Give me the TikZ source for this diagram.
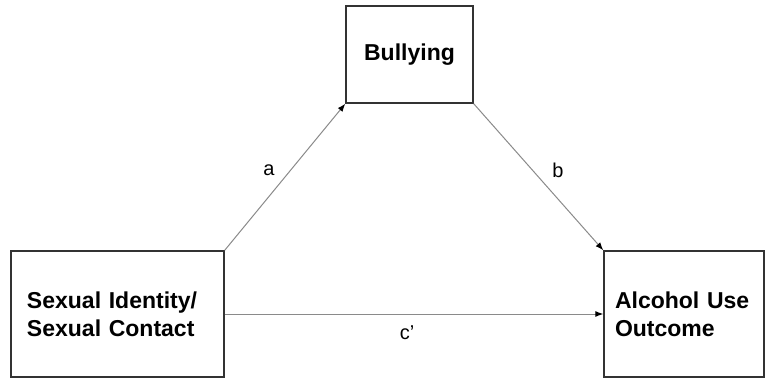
\documentclass[tikz,border=0pt]{standalone}
\usepackage{fontspec}
\setmainfont{Liberation Sans}
\usetikzlibrary{arrows.meta}
\definecolor{boxline}{HTML}{333333}
\definecolor{conline}{HTML}{8A8A8A}
\tikzset{
  varbox/.style={draw=boxline, line width=1.4pt, rectangle, inner ysep=0pt,
    font=\fontsize{23}{28}\selectfont\bfseries},
  path/.style={draw=conline, line width=1pt, -{Latex[length=8pt,width=6pt,black]}},
  plabel/.style={font=\fontsize{20}{23}\selectfont, inner sep=0pt}
}
\begin{document}
\begin{tikzpicture}[x=1pt,y=-1pt]
\useasboundingbox (0,0) rectangle (766,382);
\node[varbox, minimum width=213pt, minimum height=126pt, text width=181pt, inner xsep=16pt, align=left]
  (iv) at (117.5,314) {Sexual Identity/\\Sexual Contact};
\node[varbox, minimum width=127pt, minimum height=97pt, align=center]
  (med) at (409.5,54.5) {Bullying};
\node[varbox, minimum width=160pt, minimum height=126pt, text width=138pt, inner xsep=11pt, align=left]
  (dv) at (684,314) {Alcohol Use\\Outcome};
\draw[path] (iv.north east) -- (med.south west);
\draw[path] (med.south east) -- (dv.north west);
\draw[path] (iv.east) -- (dv.west);
\node[plabel] (la) at (269,170) {a};
\node[plabel] (lb) at (558,170) {b};
\node[plabel] (lc) at (407,333) {c’};
\end{tikzpicture}
\end{document}
